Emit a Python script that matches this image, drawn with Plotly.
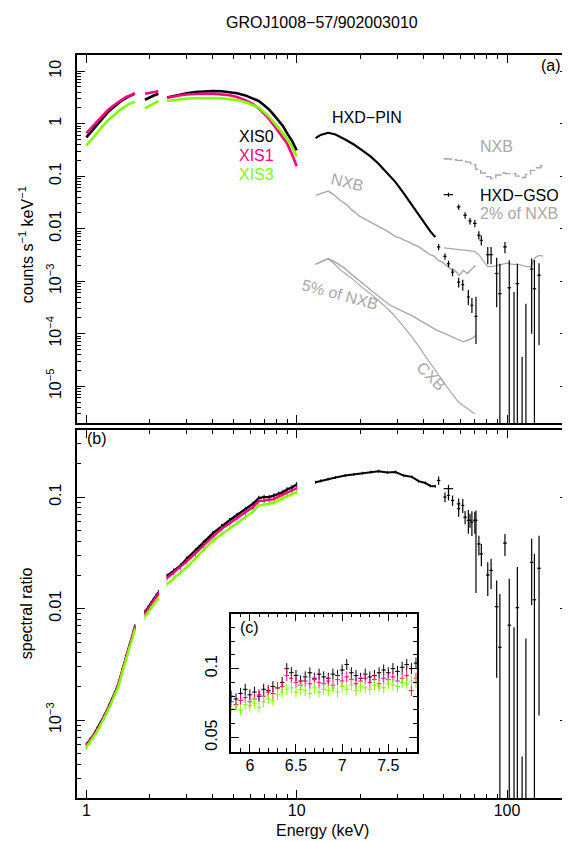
import plotly.graph_objects as go

# ---------------- data ----------------
# XIS energy grid (keV), three segments
XIS_E1 = [1.00, 1.04, 1.08, 1.12, 1.16, 1.21, 1.26, 1.31, 1.36, 1.42, 1.48, 1.54, 1.60, 1.66, 1.70]
XIS_E2 = [1.90, 1.96, 2.02, 2.08, 2.14, 2.20]
XIS_E3 = [2.42, 2.6, 2.8, 3.0, 3.3, 3.6, 4.0, 4.4, 4.8, 5.2, 5.7, 6.2, 6.6, 7.0, 7.4, 7.8, 8.2, 8.6, 9.0, 9.5, 10.0]

# counts s^-1 keV^-1 (panel a)
XIS0_C1 = [0.55, 0.66, 0.80, 0.97, 1.15, 1.36, 1.62, 1.88, 2.15, 2.45, 2.78, 3.10, 3.35, 3.55, 3.75]
XIS1_C1 = [0.66, 0.78, 0.93, 1.10, 1.30, 1.52, 1.78, 2.03, 2.30, 2.58, 2.88, 3.20, 3.40, 3.60, 3.75]
XIS3_C1 = [0.38, 0.46, 0.56, 0.67, 0.79, 0.95, 1.12, 1.30, 1.50, 1.72, 1.95, 2.20, 2.38, 2.50, 2.60]
XIS0_C2 = [2.85, 3.05, 3.25, 3.40, 3.55, 3.70]
XIS1_C2 = [3.70, 3.80, 3.90, 4.00, 4.10, 4.15]
XIS3_C2 = [1.95, 2.10, 2.25, 2.40, 2.55, 2.68]
XIS0_C3 = [3.15, 3.35, 3.60, 3.78, 3.98, 4.10, 4.18, 4.15, 4.00, 3.80, 3.45, 3.05, 2.70, 2.25, 1.85, 1.45, 1.15, 0.90, 0.66, 0.47, 0.31]
XIS1_C3 = [3.10, 3.30, 3.48, 3.60, 3.72, 3.76, 3.73, 3.62, 3.46, 3.22, 2.80, 2.35, 1.95, 1.55, 1.22, 0.92, 0.70, 0.53, 0.42, 0.26, 0.155]
XIS3_C3 = [2.70, 2.82, 2.92, 3.00, 3.05, 3.08, 3.07, 3.03, 2.95, 2.82, 2.58, 2.28, 2.02, 1.65, 1.35, 1.05, 0.82, 0.64, 0.52, 0.36, 0.235]

# spectral ratio (panel b)
XIS0_R1 = [6.0e-4, 6.6e-4, 7.3e-4, 8.2e-4, 9.2e-4, 1.07e-3, 1.25e-3, 1.45e-3, 1.72e-3, 2.1e-3, 2.8e-3, 3.7e-3, 4.6e-3, 5.8e-3, 6.9e-3]
XIS1_R1 = [5.9e-4, 6.5e-4, 7.2e-4, 8.0e-4, 9.0e-4, 1.05e-3, 1.23e-3, 1.43e-3, 1.70e-3, 2.05e-3, 2.75e-3, 3.6e-3, 4.5e-3, 5.7e-3, 6.8e-3]
XIS3_R1 = [5.7e-4, 6.3e-4, 7.0e-4, 7.8e-4, 8.8e-4, 1.02e-3, 1.20e-3, 1.40e-3, 1.66e-3, 2.0e-3, 2.65e-3, 3.5e-3, 4.4e-3, 5.5e-3, 6.5e-3]
XIS0_R2 = [0.0093, 0.0101, 0.0110, 0.0119, 0.0129, 0.0140]
XIS1_R2 = [0.0090, 0.0098, 0.0107, 0.0116, 0.0126, 0.0136]
XIS3_R2 = [0.0084, 0.0092, 0.0100, 0.0108, 0.0116, 0.0123]
XIS0_R3 = [0.0196, 0.0218, 0.0242, 0.0280, 0.0330, 0.0390, 0.0475, 0.0550, 0.0620, 0.0690, 0.0780, 0.0870, 0.0980, 0.1000, 0.1000, 0.1030, 0.1070, 0.1110, 0.1170, 0.1220, 0.1300]
XIS1_R3 = [0.0188, 0.0210, 0.0234, 0.0265, 0.0312, 0.0368, 0.0445, 0.0520, 0.0585, 0.0650, 0.0730, 0.0810, 0.0920, 0.0930, 0.0940, 0.0960, 0.1010, 0.1050, 0.1090, 0.1140, 0.1200]
XIS3_R3 = [0.0166, 0.0186, 0.0209, 0.0235, 0.0283, 0.0335, 0.0408, 0.0465, 0.0525, 0.0585, 0.0660, 0.0740, 0.0840, 0.0860, 0.0870, 0.0890, 0.0940, 0.0980, 0.1020, 0.1060, 0.1110]

# inset (c): 5.8-7.8 keV spectral ratio
INSET_E = [5.80, 5.85, 5.90, 5.95, 6.00, 6.05, 6.10, 6.15, 6.20, 6.25, 6.30, 6.35, 6.40, 6.45,
           6.50, 6.55, 6.60, 6.65, 6.70, 6.75, 6.80, 6.85, 6.90, 6.95, 7.00, 7.05, 7.10, 7.15,
           7.20, 7.25, 7.30, 7.35, 7.40, 7.45, 7.50, 7.55, 7.60, 7.65, 7.70, 7.75, 7.80]
INSET_XIS0 = [0.080, 0.078, 0.082, 0.085, 0.081, 0.083, 0.080, 0.085, 0.084, 0.087, 0.086, 0.090, 0.100, 0.097,
              0.095, 0.091, 0.094, 0.097, 0.093, 0.096, 0.094, 0.093, 0.096, 0.095, 0.099, 0.103, 0.097, 0.095,
              0.093, 0.096, 0.094, 0.095, 0.097, 0.099, 0.097, 0.100, 0.098, 0.101, 0.103, 0.100, 0.104]
INSET_XIS1 = [0.076, 0.074, 0.077, 0.079, 0.076, 0.078, 0.081, 0.080, 0.083, 0.082, 0.086, 0.087, 0.095, 0.093,
              0.090, 0.088, 0.091, 0.089, 0.092, 0.090, 0.089, 0.091, 0.088, 0.092, 0.091, 0.094, 0.092, 0.089,
              0.091, 0.093, 0.090, 0.092, 0.089, 0.093, 0.092, 0.094, 0.091, 0.093, 0.095, 0.084, 0.093]
INSET_XIS3 = [0.071, 0.073, 0.070, 0.074, 0.073, 0.075, 0.072, 0.076, 0.078, 0.077, 0.081, 0.083, 0.085, 0.086,
              0.083, 0.085, 0.084, 0.082, 0.086, 0.083, 0.085, 0.084, 0.086, 0.083, 0.087, 0.085, 0.088, 0.084,
              0.087, 0.086, 0.085, 0.088, 0.087, 0.086, 0.089, 0.088, 0.087, 0.090, 0.089, 0.091, 0.090]

# HXD-PIN: dense part
PIN_E_DENSE = [12.3, 13.0, 14.1, 15.3, 17.0, 18.7, 20.5, 22.5, 24.5, 27.0, 29.5, 32.3, 35.3, 38.0, 40.9, 43.2, 45.6]
PIN_C_DENSE = [0.53, 0.61, 0.67, 0.62, 0.50, 0.40, 0.31, 0.235, 0.173, 0.115, 0.077, 0.047, 0.028, 0.018, 0.0116, 0.0089, 0.0069]
PIN_R_DENSE = [0.136, 0.140, 0.145, 0.150, 0.156, 0.160, 0.164, 0.168, 0.171, 0.166, 0.168, 0.156, 0.152, 0.139, 0.134, 0.126, 0.125]
# HXD-PIN: sparse part (crosses)
PIN_E = [47.3, 50.7, 52.7, 55.1, 58.9, 61.6, 65.5, 68.1, 71.2]
PIN_DE = [0.9, 0.9, 0.9, 1.0, 1.0, 1.0, 1.1, 1.1, 1.2]
PIN_C = [0.0045, 0.00297, 0.00215, 0.00149, 0.00096, 0.00086, 0.00050, 0.000347, 0.000214]
PIN_C_UP = [0.0006, 0.0004, 0.0003, 0.00025, 0.0002, 0.0002, 0.00018, 0.00013, 0.00029]
PIN_C_DN = [0.0006, 0.0004, 0.0003, 0.00025, 0.0002, 0.0002, 0.00015, 0.00010, 0.00015]
PIN_R = [0.141, 0.100, 0.1035, 0.0934, 0.0787, 0.0842, 0.0618, 0.0597, 0.0618]
PIN_R_UP = [0.012, 0.010, 0.010, 0.010, 0.012, 0.012, 0.015, 0.015, 0.014]
PIN_R_DN = [0.012, 0.010, 0.010, 0.010, 0.012, 0.012, 0.015, 0.015, 0.048]

# HXD-GSO (crosses); 1e-7 / 1e-6 = bin value below the plotted range
GSO_E = [52.7, 58.9, 63.2, 66.7, 70.3, 73.5, 75.5, 81.0, 84.0, 89.3, 92.5, 97.8, 102.5, 108.0, 112.0, 118.0, 123.0, 131.0, 135.0, 142.0]
GSO_DE = [2.7, 1.2, 1.2, 1.2, 1.4, 1.4, 1.4, 1.6, 1.6, 1.8, 1.8, 2.0, 2.0, 2.2, 2.2, 2.4, 2.4, 2.6, 2.6, 2.8]
GSO_C = [0.0445, 0.026, 0.018, 0.014, 0.0126, 0.0075, 0.006, 0.0032, 0.0032, 0.0014, 0.00058, 0.0045, 0.00075, 1e-7, 0.0009, 1e-7, 1e-7, 0.0017, 0.00072, 0.0013]
GSO_C_UP = [0.004, 0.003, 0.0025, 0.002, 0.002, 0.0014, 0.0014, 0.0013, 0.0013, 0.0014, 0.00157, 0.0011, 0.00175, 0.00062, 0.00125, 3.6e-5, 3.7e-4, 0.0010, 0.0018, 0.0009]
GSO_C_DN = [0.004, 0.003, 0.0025, 0.002, 0.002, 0.0013, 0.0012, 0.0011, 0.0011, 0.00108, 0.00058, 0.0011, 0.00075, 1e-7, 0.0009, 1e-7, 1e-7, 0.0016, 0.00072, 0.00124]
GSO_R = [0.119, 0.087, 0.066, 0.062, 0.062, 0.038, 0.031, 0.020, 0.022, 0.0104, 0.0045, 0.0387, 0.0071, 1e-6, 0.0102, 1e-6, 1e-6, 0.026, 0.012, 0.023]
GSO_R_UP = [0.010, 0.010, 0.009, 0.009, 0.012, 0.007, 0.007, 0.006, 0.006, 0.0075, 0.009, 0.008, 0.0114, 0.0068, 0.0134, 4.7e-4, 0.0054, 0.0164, 0.019, 0.022]
GSO_R_DN = [0.010, 0.010, 0.009, 0.009, 0.015, 0.008, 0.007, 0.007, 0.007, 0.008, 0.0045, 0.009, 0.0071, 1e-6, 0.0102, 1e-6, 1e-6, 0.0153, 0.012, 0.0219]

# backgrounds (panel a)
NXB_PIN_E = [12.3, 13.0, 13.6, 14.1, 14.7, 15.3, 15.9, 16.6, 17.4, 18.2, 19.0, 19.8, 20.7, 21.7, 22.7, 23.7,
             24.8, 26.0, 27.2, 28.5, 29.8, 31.2, 32.7, 34.2, 35.8, 37.5, 39.3, 41.1, 43.0, 45.0, 47.1, 49.3,
             51.6, 54.0, 56.6, 59.2, 62.0, 64.9, 68.0, 71.0]
NXB_PIN_C = [0.043, 0.047, 0.050, 0.052, 0.047, 0.042, 0.036, 0.032, 0.028, 0.023, 0.0205, 0.0175, 0.0158, 0.0143, 0.0129, 0.0120,
             0.0107, 0.0098, 0.0087, 0.0078, 0.0069, 0.0066, 0.0059, 0.0056, 0.0050, 0.0047, 0.0041, 0.0036, 0.0032, 0.0030, 0.0025, 0.0023,
             0.0020, 0.0017, 0.0016, 0.0013, 0.0016, 0.0014, 0.0017, 0.0020]
NXB5_E = [12.3, 13.2, 14.1, 15.0, 16.0, 17.0, 18.2, 19.5, 21.2, 23.0, 25.0, 27.5, 30.0, 32.5, 35.3, 38.5,
          42.2, 46.0, 50.7, 55.0, 58.9, 62.0, 65.5, 68.5, 71.0]
NXB5_C = [0.0021, 0.0024, 0.0027, 0.0024, 0.0020, 0.00174, 0.00135, 0.0011, 0.00083, 0.00063, 0.00048, 0.00036, 0.00030, 0.00026, 0.00022, 0.00018,
          0.000144, 0.000118, 0.000100, 8.6e-5, 7.6e-5, 7.0e-5, 7.6e-5, 8.2e-5, 9.3e-5]
CXB_E = [12.3, 13.2, 14.1, 15.0, 16.0, 17.0, 18.7, 20.4, 22.4, 24.5, 27.0, 29.5, 32.3, 35.3, 38.6, 42.2, 46.3, 50.7, 55.0, 58.9, 64.0, 70.0]
CXB_C = [0.0021, 0.0024, 0.0026, 0.0022, 0.0017, 0.0014, 0.00105, 0.00077, 0.00058, 0.00043, 0.00030, 0.00021, 0.000135, 8.7e-5, 5.3e-5, 3.1e-5, 1.85e-5, 1.1e-5, 7.0e-6, 5.0e-6, 3.9e-6, 3.0e-6]
NXB_GSO_E = [50, 53, 56, 59, 62, 65.5, 69, 73, 77, 81, 86, 91, 96, 101, 107, 113, 119, 126, 133, 141, 149]
NXB_GSO_C = [0.215, 0.212, 0.205, 0.200, 0.200, 0.185, 0.165, 0.135, 0.115, 0.098, 0.090, 0.105, 0.115, 0.112, 0.112, 0.100, 0.094, 0.108, 0.129, 0.145, 0.160]
NXB2_E = [50, 55, 60, 65, 70, 73, 76, 78.5, 81, 85, 90, 95, 100, 106, 112, 118, 124, 130, 136, 142, 149]
NXB2_C = [0.0043, 0.0041, 0.0040, 0.0038, 0.0037, 0.0033, 0.0026, 0.0022, 0.0019, 0.0019, 0.0020, 0.0021, 0.0022, 0.0021, 0.0021, 0.0020, 0.0019, 0.0019, 0.0028, 0.0031, 0.0030]

# ---------------- style ----------------
BLACK = "#000000"
MAGENTA = "#ff0080"
GREEN = "#80ff00"
GRAY = "#a8a8a8"
FONT = "Liberation Sans, Arial, Helvetica, sans-serif"

# the page body adds an 8 px offset; the figure is sized so the plot lands where the reference has it
OFF = 8
W, H = 562, 833
ML, MR, MT, MB = 69, 0, 47, 43
PW, PH = W - ML - MR, H - MT - MB


def px(x):
    """page pixel x -> paper fraction"""
    return (x - OFF - ML) / PW


def py(y):
    """page pixel y -> paper fraction"""
    return (H - MB - (y - OFF)) / PH


def joined(*segs):
    out = []
    for i, s in enumerate(segs):
        if i:
            out.append(None)
        out.extend(s)
    return out


fig = go.Figure()

# ----- panel (a): XIS -----
for c1, c2, c3, col in [(XIS0_C1, XIS0_C2, XIS0_C3, BLACK),
                        (XIS1_C1, XIS1_C2, XIS1_C3, MAGENTA),
                        (XIS3_C1, XIS3_C2, XIS3_C3, GREEN)]:
    fig.add_trace(go.Scatter(x=joined(XIS_E1, XIS_E2, XIS_E3), y=joined(c1, c2, c3),
                             mode="lines", line=dict(color=col, width=2.6),
                             connectgaps=False, xaxis="x2", yaxis="y2", showlegend=False))

# backgrounds
fig.add_trace(go.Scatter(x=NXB_PIN_E, y=NXB_PIN_C, mode="lines", line=dict(color=GRAY, width=1.4),
                         xaxis="x2", yaxis="y2", showlegend=False))
fig.add_trace(go.Scatter(x=NXB5_E, y=NXB5_C, mode="lines", line=dict(color=GRAY, width=1.4),
                         xaxis="x2", yaxis="y2", showlegend=False))
fig.add_trace(go.Scatter(x=CXB_E, y=CXB_C, mode="lines", line=dict(color=GRAY, width=1.2, shape="spline"),
                         xaxis="x2", yaxis="y2", showlegend=False))
fig.add_trace(go.Scatter(x=NXB_GSO_E, y=NXB_GSO_C, mode="lines",
                         line=dict(color=GRAY, width=1.4, shape="hvh", dash="9px,3px"),
                         xaxis="x2", yaxis="y2", showlegend=False))
fig.add_trace(go.Scatter(x=NXB2_E, y=NXB2_C, mode="lines", line=dict(color=GRAY, width=1.2),
                         xaxis="x2", yaxis="y2", showlegend=False))

# PIN
fig.add_trace(go.Scatter(x=PIN_E_DENSE, y=PIN_C_DENSE, mode="lines", line=dict(color=BLACK, width=2.2),
                         xaxis="x2", yaxis="y2", showlegend=False))
fig.add_trace(go.Scatter(x=PIN_E, y=PIN_C, mode="markers", marker=dict(size=1, color=BLACK),
                         error_x=dict(type="data", array=PIN_DE, color=BLACK, thickness=1.2, width=0),
                         error_y=dict(type="data", array=PIN_C_UP, arrayminus=PIN_C_DN, color=BLACK, thickness=1.2, width=0),
                         xaxis="x2", yaxis="y2", showlegend=False))
# GSO
fig.add_trace(go.Scatter(x=GSO_E, y=GSO_C, mode="markers", marker=dict(size=1, color=BLACK),
                         error_x=dict(type="data", array=GSO_DE, color=BLACK, thickness=1.2, width=0),
                         error_y=dict(type="data", array=GSO_C_UP, arrayminus=GSO_C_DN, color=BLACK, thickness=1.2, width=0),
                         xaxis="x2", yaxis="y2", showlegend=False, cliponaxis=True))

# ----- panel (b) -----
for r1, r2, r3, col in [(XIS0_R1, XIS0_R2, XIS0_R3, BLACK),
                        (XIS1_R1, XIS1_R2, XIS1_R3, MAGENTA),
                        (XIS3_R1, XIS3_R2, XIS3_R3, GREEN)]:
    fig.add_trace(go.Scatter(x=joined(XIS_E1, XIS_E2, XIS_E3), y=joined(r1, r2, r3),
                             mode="lines", line=dict(color=col, width=2.4),
                             error_y=dict(type="percent", value=5, color=col, thickness=1, width=0),
                             connectgaps=False, xaxis="x", yaxis="y", showlegend=False))

fig.add_trace(go.Scatter(x=PIN_E_DENSE, y=PIN_R_DENSE, mode="lines", line=dict(color=BLACK, width=2),
                         error_y=dict(type="percent", value=3, color=BLACK, thickness=1, width=0),
                         xaxis="x", yaxis="y", showlegend=False))
fig.add_trace(go.Scatter(x=PIN_E, y=PIN_R, mode="markers", marker=dict(size=1, color=BLACK),
                         error_x=dict(type="data", array=PIN_DE, color=BLACK, thickness=1.2, width=0),
                         error_y=dict(type="data", array=PIN_R_UP, arrayminus=PIN_R_DN, color=BLACK, thickness=1.2, width=0),
                         xaxis="x", yaxis="y", showlegend=False))
fig.add_trace(go.Scatter(x=GSO_E, y=GSO_R, mode="markers", marker=dict(size=1, color=BLACK),
                         error_x=dict(type="data", array=GSO_DE, color=BLACK, thickness=1.2, width=0),
                         error_y=dict(type="data", array=GSO_R_UP, arrayminus=GSO_R_DN, color=BLACK, thickness=1.2, width=0),
                         xaxis="x", yaxis="y", showlegend=False))

# ----- inset (c) -----
for vals, col in [(INSET_XIS0, BLACK), (INSET_XIS1, MAGENTA), (INSET_XIS3, GREEN)]:
    fig.add_trace(go.Scatter(x=INSET_E, y=vals, mode="markers", marker=dict(size=1, color=col),
                             error_x=dict(type="constant", value=0.025, color=col, thickness=1, width=0),
                             error_y=dict(type="constant", value=0.004, color=col, thickness=1, width=0),
                             xaxis="x3", yaxis="y3", showlegend=False))

# ---------------- axes ----------------


def log_minor(lo, hi):
    return [k * 10.0 ** n for n in range(lo, hi + 1) for k in range(2, 10)]


tickfont = dict(family=FONT, size=16, color=BLACK)
common = dict(showline=True, linecolor=BLACK, linewidth=1.6, mirror="allticks",
              ticks="inside", ticklen=8, tickwidth=1, tickcolor=BLACK,
              showgrid=False, zeroline=False, tickfont=tickfont)

XR = [-0.0445, 2.29]
fig.update_layout(
    xaxis=dict(type="log", range=XR, domain=[0, 1], anchor="y",
               tickmode="array", tickvals=[1, 10, 100], ticktext=["1", "10", "100"], ticklabelstandoff=-3,
               minor=dict(tickmode="array", tickvals=log_minor(0, 2), ticks="inside", ticklen=4,
                          tickcolor=BLACK, showgrid=False), **common),
    xaxis2=dict(type="log", range=XR, domain=[0, 1], anchor="y2", showticklabels=False,
                tickmode="array", tickvals=[1, 10, 100],
                minor=dict(tickmode="array", tickvals=log_minor(0, 2), ticks="inside", ticklen=4,
                           tickcolor=BLACK, showgrid=False), **common),
    yaxis=dict(type="log", range=[-3.699, -0.398], domain=[0, py(430)], anchor="x",
               tickmode="array", tickvals=[0.001, 0.01, 0.1],
               ticktext=["10<sup>\u22123</sup>", "0.01", "0.1"], tickangle=-90, ticklabelstandoff=8,
               minor=dict(tickmode="array", tickvals=log_minor(-4, -1), ticks="inside", ticklen=4,
                          tickcolor=BLACK, showgrid=False), **common),
    yaxis2=dict(type="log", range=[-5.70, 1.307], domain=[py(423), 1], anchor="x2",
                tickmode="array", tickvals=[1e-5, 1e-4, 1e-3, 0.01, 0.1, 1, 10],
                ticktext=["10<sup>\u22125</sup>", "10<sup>\u22124</sup>", "10<sup>\u22123</sup>",
                          "0.01", "0.1", "1", "10"], tickangle=-90, ticklabelstandoff=8,
                minor=dict(tickmode="array", tickvals=log_minor(-6, 1), ticks="inside", ticklen=4,
                           tickcolor=BLACK, showgrid=False), **common),
    xaxis3=dict(range=[5.8, 7.81], domain=[px(232), px(418.3)], anchor="y3",
                tickmode="linear", tick0=0, dtick=0.5, ticklabelstandoff=-2,
                minor=dict(tick0=0, dtick=0.1, ticks="inside", ticklen=4, tickcolor=BLACK, showgrid=False),
                **common),
    yaxis3=dict(range=[0.0395, 0.140], domain=[py(752), py(613.5)], anchor="x3",
                tickmode="linear", tick0=0, dtick=0.05, tickangle=-90, ticklabelstandoff=6,
                minor=dict(tick0=0, dtick=0.01, ticks="inside", ticklen=4, tickcolor=BLACK, showgrid=False),
                **common),
)

# ---------------- text ----------------
ann = []


def text(x, y, s, color=BLACK, size=16, angle=0, xanchor="center"):
    ann.append(dict(x=px(x), y=py(y), xref="paper", yref="paper", text=s, showarrow=False,
                    font=dict(family=FONT, size=size, color=color), textangle=angle,
                    xanchor=xanchor, yanchor="middle"))


text(323, 22, "GROJ1008\u221257/902003010")
text(26, 245, "counts s<sup>\u22121</sup> keV<sup>\u22121</sup>", angle=-90)
text(26, 613, "spectral ratio", angle=-90)
text(323, 830, "Energy (keV)")
text(553, 65, "(a)")
text(97, 438, "(b)")
text(250, 627, "(c)")
text(238, 137, "XIS0", BLACK, xanchor="left")
text(238, 156, "XIS1", MAGENTA, xanchor="left")
text(238, 174, "XIS3", GREEN, xanchor="left")
text(331, 118, "HXD\u2212PIN", BLACK, xanchor="left")
text(480, 146, "NXB", GRAY, xanchor="left")
text(349, 182, "NXB", GRAY, angle=14)
text(480, 196, "HXD\u2212GSO", BLACK, xanchor="left")
text(480, 213, "2% of NXB", GRAY, xanchor="left")
text(341, 294, "5% of NXB", GRAY, angle=15)
text(433, 376, "CXB", GRAY, angle=45)

fig.update_layout(
    width=W, height=H, margin=dict(l=ML, r=MR, t=MT, b=MB),
    paper_bgcolor="white", plot_bgcolor="rgba(0,0,0,0)",
    annotations=ann, showlegend=False,
    font=dict(family=FONT, size=16, color=BLACK),
)

fig.write_html("out.html")
